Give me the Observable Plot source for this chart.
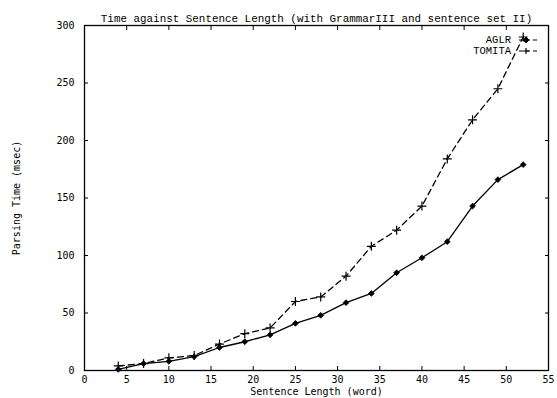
<!DOCTYPE html>
<html>
<head>
<meta charset="utf-8">
<script src="https://cdn.jsdelivr.net/npm/d3@7"></script>
<script src="https://cdn.jsdelivr.net/npm/@observablehq/plot@0.6"></script>
<style>
  html, body { margin: 0; padding: 0; background: #fff; }
</style>
</head>
<body>
<div id="chart"></div>
<script>
const titleText = "Time against Sentence Length (with GrammarIII and sentence set II)";
const xLabel = "Sentence Length (word)";
const yLabel = "Parsing Time (msec)";
const lengths = [4, 7, 10, 13, 16, 19, 22, 25, 28, 31, 34, 37, 40, 43, 46, 49, 52];
const aglr   = [1, 6, 8, 12, 20, 25, 31, 41, 48, 59, 67, 85, 98, 112, 143, 166, 179];
const tomita = [4, 6, 11, 13, 23, 32, 37, 60, 64, 82, 108, 122, 143, 184, 218, 245, 290];
const xTicks = [0, 5, 10, 15, 20, 25, 30, 35, 40, 45, 50, 55];
const yTicks = [0, 50, 100, 150, 200, 250, 300];
const seriesNames = ["AGLR", "TOMITA"];

const aglrData = lengths.map((x, i) => ({x, y: aglr[i]}));
const tomitaData = lengths.map((x, i) => ({x, y: tomita[i]}));

const mono = "Liberation Mono, DejaVu Sans Mono, monospace";
const tickFont = "DejaVu Sans Mono, Liberation Mono, monospace";

const W = 557, H = 398;
const mL = 84, mR = 9, mT = 25, mB = 28;

const chart = Plot.plot({
  width: W,
  height: H,
  marginLeft: mL,
  marginRight: mR,
  marginTop: mT,
  marginBottom: mB,
  style: {fontFamily: tickFont, fontSize: "10px", color: "black", background: "white"},
  x: {domain: [0, 55]},
  y: {domain: [0, 300]},
  marks: [
    Plot.frame({stroke: "black", strokeWidth: 1.3}),
    Plot.axisX({ticks: xTicks, tickSize: -4, tickPadding: 9, tickFormat: d => String(d),
      fontFamily: tickFont, fontSize: 10,
      label: xLabel, labelAnchor: "center", labelArrow: "none", labelOffset: 24}),
    Plot.axisX({anchor: "top", ticks: xTicks, tickSize: -4, tickFormat: () => "", label: null}),
    Plot.axisY({ticks: yTicks, tickSize: -4, tickPadding: 14, tickFormat: d => String(d),
      fontFamily: tickFont, fontSize: 10,
      label: yLabel, labelAnchor: "center", labelArrow: "none", labelOffset: 72}),
    Plot.axisY({anchor: "right", ticks: yTicks, tickSize: -4, tickFormat: () => "", label: null}),
    Plot.line(tomitaData, {x: "x", y: "y", stroke: "black", strokeWidth: 1.3, strokeDasharray: "6,4"}),
    Plot.line(aglrData, {x: "x", y: "y", stroke: "black", strokeWidth: 1.3}),
    Plot.dot(tomitaData, {x: "x", y: "y", symbol: "plus", stroke: "black", strokeWidth: 1.2, r: 3}),
    Plot.dot(aglrData, {x: "x", y: "y", symbol: "diamond2", fill: "black", stroke: "black", strokeWidth: 0.8, r: 2.6}),
    Plot.text([titleText], {frameAnchor: "top", dy: -11, fontFamily: mono, fontSize: 10.9, fill: "black"})
  ]
});

document.getElementById("chart").appendChild(chart);

// Legend inside the top-right of the frame
const svg = d3.select(chart);
const legend = svg.append("g").attr("class", "legend");
const legendRows = [
  {name: seriesNames[0], kind: "diamond"},
  {name: seriesNames[1], kind: "plus"}
];
const textRight = W - mR - 37;
const sampleX1 = W - mR - 29, sampleX2 = W - mR - 10, markX = W - mR - 22;
legendRows.forEach((row, i) => {
  const y = mT + 15 + i * 11;
  legend.append("text")
    .attr("x", textRight).attr("y", y)
    .attr("text-anchor", "end").attr("dominant-baseline", "middle")
    .attr("font-family", mono).attr("font-size", 10.5).attr("fill", "black")
    .text(row.name);
  legend.append("line")
    .attr("x1", sampleX1).attr("x2", sampleX2).attr("y1", y).attr("y2", y)
    .attr("stroke", "black").attr("stroke-width", 1.2).attr("stroke-dasharray", "4,3");
  if (row.kind === "diamond") {
    legend.append("path")
      .attr("d", `M${markX},${y - 3}L${markX + 3},${y}L${markX},${y + 3}L${markX - 3},${y}Z`)
      .attr("fill", "black").attr("stroke", "black").attr("stroke-width", 0.8);
  } else {
    legend.append("path")
      .attr("d", `M${markX - 3},${y}h6M${markX},${y - 3}v6`)
      .attr("stroke", "black").attr("stroke-width", 1.2).attr("fill", "none");
  }
});
</script>
</body>
</html>
